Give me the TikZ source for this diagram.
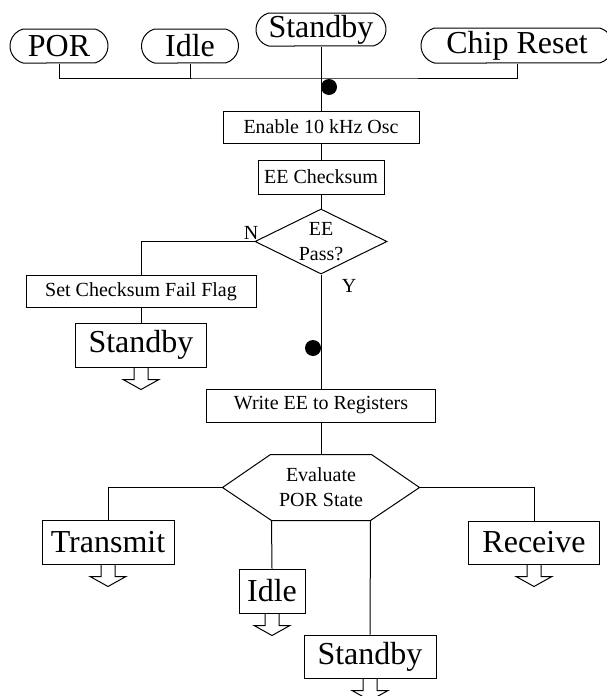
\documentclass[tikz,border=0pt]{standalone}
\usepackage{fontspec}
\setmainfont{Liberation Serif}
\usetikzlibrary{shapes.geometric,shapes.misc}

\begin{document}
\begin{tikzpicture}
	[x=1pt,y=-1pt,line width=1pt,
	 term/.style={draw,rounded rectangle,rounded rectangle arc length=150,inner sep=0pt,minimum height=34pt,font=\fontsize{32}{34}\selectfont},
	 box/.style={draw,rectangle,inner sep=0pt,minimum height=33pt,font=\fontsize{20}{24}\selectfont},
	 exit/.style={draw,rectangle,inner sep=0pt,minimum height=44pt,font=\fontsize{32}{34}\selectfont},
	 lbl/.style={inner sep=0pt,align=center,font=\fontsize{20}{25}\selectfont},
	 dot/.style={circle,fill=black,inner sep=0pt,minimum size=16pt}]
	\useasboundingbox (0,0) rectangle (607,696);
	
	\node[term,minimum width=98pt] (por) at (59,46) {POR};
	\node[term,minimum width=97pt] (idleA) at (190,46) {Idle};
	\node[term,minimum width=130pt,minimum height=33pt] (sbyT) at (321,29.5) {Standby};
	\node[term,minimum width=192pt,minimum height=35pt] (chip) at (517,45.5) {Chip Reset};
	\coordinate (bus) at (321,78);
	\node[dot] (d1) at (329,87) {};
	
	\node[box,minimum width=196pt,minimum height=32pt] (osc) at (321,127) {Enable 10 kHz Osc};
	\node[box,minimum width=126pt,minimum height=34pt] (check) at (321,177) {EE Checksum};
	\node[draw,diamond,aspect=2,inner sep=0pt,minimum width=132pt,minimum height=65pt,lbl] (pass) at (321,241.5) {EE\\Pass?};
	\node[lbl] (no) at (251,233) {N};
	\node[lbl] (yes) at (349,286) {Y};
	\node[box,minimum width=230pt,minimum height=32pt] (fail) at (141,291.5) {Set Checksum Fail Flag};
	\node[exit,minimum width=131pt] (sbyA) at (141,345) {Standby};
	\node[dot] (d2) at (313,348) {};
	
	\node[box,minimum width=229pt] (write) at (321,405.5) {Write EE to Registers};
	\node[lbl,minimum width=196pt,minimum height=65pt] (eval) at (321,487.5) {Evaluate\\POR State};
	\draw (eval.west) -- ([xshift=48pt]eval.north west) -- ([xshift=-48pt]eval.north east) -- (eval.east)
		-- ([xshift=-49pt]eval.south east) -- ([xshift=49pt]eval.south west) -- cycle;
	
	\node[exit,minimum width=132pt] (tx) at (108,542) {Transmit};
	\node[exit,minimum width=131pt,minimum height=43pt] (rx) at (534,542.5) {Receive};
	\node[exit,minimum width=66pt] (idleB) at (272,591) {Idle};
	\node[exit,minimum width=132pt,minimum height=43pt] (sbyB) at (370,656.5) {Standby};
	
	\draw (por.south) |- (bus) -| (chip.south);
	\draw (idleA.south) -- (idleA.south |- bus);
	\draw (sbyT.south) -- (osc.north);
	\draw (osc.south) -- (check.north);
	\draw (check.south) -- (pass.north);
	\draw (pass.west) -| (fail.north);
	\draw (fail.south) -- (sbyA.north);
	\draw (pass.south) -- (write.north);
	\draw (write.south) -- (eval.north);
	\draw (eval.west) -| (tx.north);
	\draw (eval.east) -| (rx.north);
	\draw ([xshift=49pt]eval.south west) -- (idleB.north);
	\draw ([xshift=-49pt]eval.south east) -- (sbyB.north);
	
	\foreach \n in {sbyA,tx,rx,idleB,sbyB}
	\draw ([xshift=-7pt]\n.south) -- ++(0,12) -- ++(-11,0) -- ++(18,10) -- ++(18,-10) -- ++(-11,0) -- ++(0,-12);
\end{tikzpicture}
\end{document}
